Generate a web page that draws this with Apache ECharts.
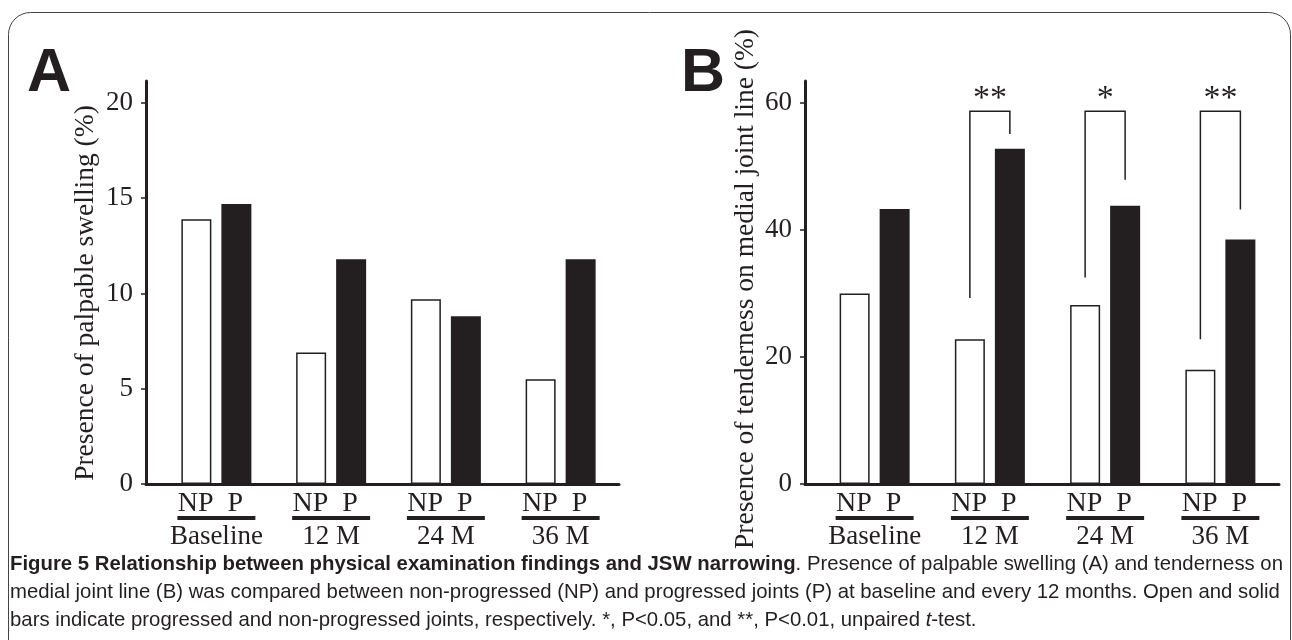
<!DOCTYPE html>
<html>
<head>
<meta charset="utf-8">
<script src="https://cdn.jsdelivr.net/npm/echarts@6/dist/echarts.min.js"></script>
<style>
html,body{margin:0;padding:0;background:#fff;}
#chart{width:1292px;height:640px;}
</style>
</head>
<body>
<div id="chart"></div>
<script>
// ---- data ----
const categories = ['Baseline', '12 M', '24 M', '36 M'];
const swellingNP = [13.9, 6.9, 9.7, 5.5];
const swellingP = [14.7, 11.8, 8.8, 11.8];
const tenderNP = [30.0, 22.8, 28.2, 18.0];
const tenderP = [43.3, 52.8, 43.8, 38.5];
const swellingTicks = [0, 5, 10, 15, 20];
const tenderTicks = [0, 20, 40, 60];
const sigCategories = ['12 M', '24 M', '36 M'];
const sigTop = [58.7, 58.7, 58.7];
const sigNPEnd = [29.3, 32.5, 22.8];
const sigPEnd = [55.1, 47.9, 43.2];
const sigMarks = ['**', '*', '**'];
const groupLabel = 'NP  P';
const titleA = 'Presence of palpable swelling (%)';
const titleB = 'Presence of tenderness on medial joint line (%)';
const captionBold = 'Figure 5 Relationship between physical examination findings and JSW narrowing';
const captionLine1 = '. Presence of palpable swelling (A) and tenderness on';
const captionLine2 = 'medial joint line (B) was compared between non-progressed (NP) and progressed joints (P) at baseline and every 12 months. Open and solid';
const captionLine3 = 'bars indicate progressed and non-progressed joints, respectively. *, P<0.05, and **, P<0.01, unpaired ';
const captionItalic = 't';
const captionEnd = '-test.';

// ---- style ----
const INK = '#231f20';
const SERIF = "'Liberation Serif', 'Times New Roman', serif";
const SANS = "'Liberation Sans', Arial, sans-serif";
const CAP_R = '21px ' + SANS, CAP_B = 'bold 21px ' + SANS, CAP_I = 'italic 21px ' + SANS;
const BAR_W = 30, BAR_GAP = 10;

const chart = echarts.init(document.getElementById('chart'), null, {renderer: 'canvas'});

function xCat(gridIndex) {
  return {
    type: 'category', gridIndex, data: categories,
    axisLine: {show: false}, axisTick: {show: false}, splitLine: {show: false},
    axisLabel: {
      interval: 0, margin: 8, color: INK, fontFamily: SERIF,
      formatter: v => '{np|' + groupLabel + '}\n{ul| }\n{cat|' + v + '}',
      rich: {
        np: {fontSize: 28, lineHeight: 24, fontFamily: SERIF, color: INK, padding: [0, 12, 0, 0]},
        ul: {width: 78, height: 4, lineHeight: 4, fontSize: 4, backgroundColor: INK},
        cat: {fontSize: 27, lineHeight: 34, fontFamily: SERIF, color: INK}
      }
    }
  };
}
function xFrame(gridIndex) {
  return {
    type: 'value', gridIndex, min: 0, max: 1,
    axisLine: {show: true, lineStyle: {color: INK, width: 3}},
    axisTick: {show: false}, axisLabel: {show: false}, splitLine: {show: false}
  };
}
function yVal(gridIndex, max, ticks, offset) {
  return {
    type: 'value', gridIndex, min: 0, max, offset,
    axisLine: {show: true, lineStyle: {color: INK, width: 3}},
    axisTick: {show: true, length: 5, customValues: ticks, lineStyle: {color: INK, width: 1.5}},
    axisLabel: {show: true, customValues: ticks, margin: 13, fontSize: 27, fontFamily: SERIF, color: INK},
    splitLine: {show: false}
  };
}
function yHidden(gridIndex) {
  return {type: 'value', gridIndex, show: false, min: 0, max: 1};
}
function bars(xi, yi, data, filled) {
  return {
    type: 'bar', xAxisIndex: xi, yAxisIndex: yi, data, barWidth: BAR_W,
    barGap: (BAR_GAP / BAR_W * 100) + '%',
    itemStyle: filled ? {color: INK} : {color: '#fff', borderColor: INK, borderWidth: 1.5},
    silent: true
  };
}

// ---- caption: condense so that the first line spans the frame width ----
const mctx = document.createElement('canvas').getContext('2d');
function mw(text, font) { mctx.font = font; return mctx.measureText(text).width; }
const line1Natural = mw(captionBold, CAP_B) + mw(captionLine1, CAP_R);
const CAP_SCALE = 1273 / line1Natural;
function capText(y, text, rich) {
  return {type: 'text', x: 10, y, scaleX: CAP_SCALE, silent: true,
    style: Object.assign({text, fill: INK, verticalAlign: 'middle'}, rich ? {rich} : {font: CAP_R})};
}
const capRich = {b: {font: CAP_B, fill: INK}, r: {font: CAP_R, fill: INK}, i: {font: CAP_I, fill: INK}};

const option = {
  animation: false,
  backgroundColor: '#fff',
  grid: [
    {left: 159, top: 81, width: 459, height: 403},
    {left: 146, top: 81, width: 473, height: 403},
    {left: 817, top: 81, width: 461, height: 403},
    {left: 805, top: 81, width: 474, height: 403}
  ],
  xAxis: [xCat(0), xFrame(1), xCat(2), xFrame(3)],
  yAxis: [
    yVal(0, 21.15, swellingTicks, 13), yHidden(1),
    yVal(2, 63.45, tenderTicks, 12), yHidden(3)
  ],
  series: [
    bars(0, 0, swellingNP, false),
    bars(0, 0, swellingP, true),
    bars(2, 2, tenderNP, false),
    bars(2, 2, tenderP, true),
    {
      type: 'custom', xAxisIndex: 2, yAxisIndex: 2, silent: true,
      data: sigCategories.map((c, i) => [c, sigTop[i], sigNPEnd[i], sigPEnd[i]]),
      renderItem: function (params, api) {
        const ci = api.value(0);
        const top = api.coord([ci, api.value(1)]);
        const lb = api.coord([ci, api.value(2)]);
        const rb = api.coord([ci, api.value(3)]);
        const off = (BAR_W + BAR_GAP) / 2;
        return {
          type: 'group',
          children: [
            {type: 'polyline', shape: {points: [[top[0] - off, lb[1]], [top[0] - off, top[1]], [top[0] + off, top[1]], [top[0] + off, rb[1]]]},
             style: {stroke: INK, lineWidth: 1.5, fill: null}},
            {type: 'text', x: top[0], y: top[1] - 12,
             style: {text: sigMarks[params.dataIndex], font: '34px ' + SERIF, fill: INK, align: 'center', verticalAlign: 'middle'}}
          ]
        };
      }
    }
  ],
  graphic: [
    {type: 'rect', shape: {x: 8.5, y: 12.5, width: 1282, height: 700, r: 22}, style: {fill: null, stroke: '#444', lineWidth: 1}, silent: true},
    {type: 'text', x: 27, y: 74, style: {text: 'A', font: 'bold 61px ' + SANS, fill: INK, verticalAlign: 'middle'}},
    {type: 'text', x: 681, y: 74, style: {text: 'B', font: 'bold 61px ' + SANS, fill: INK, verticalAlign: 'middle'}},
    {type: 'text', x: 85.5, y: 293, rotation: Math.PI / 2,
     style: {text: titleA, font: '27.5px ' + SERIF, fill: INK, align: 'center', verticalAlign: 'middle'}},
    {type: 'text', x: 745.5, y: 289, rotation: Math.PI / 2,
     style: {text: titleB, font: '27.5px ' + SERIF, fill: INK, align: 'center', verticalAlign: 'middle'}},
    capText(564, '{b|' + captionBold + '}{r|' + captionLine1 + '}', capRich),
    capText(592, captionLine2, null),
    capText(620, '{r|' + captionLine3 + '}{i|' + captionItalic + '}{r|' + captionEnd + '}', capRich)
  ]
};
chart.setOption(option);
</script>
</body>
</html>
